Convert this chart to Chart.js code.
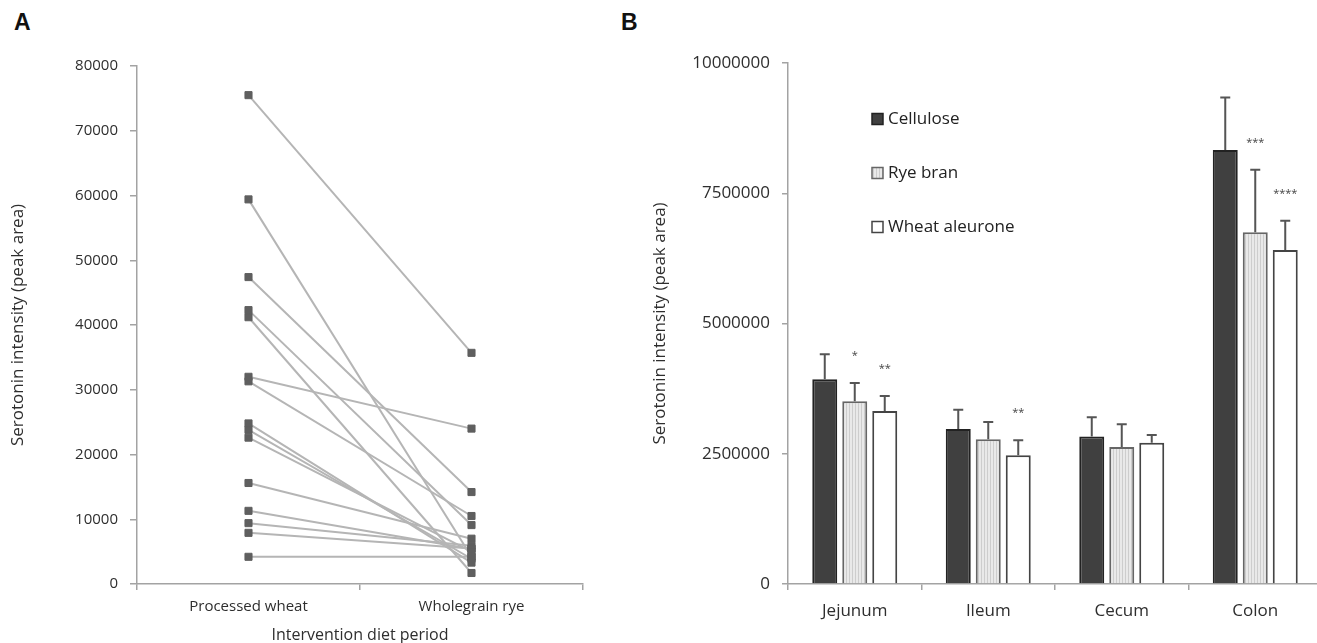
<!DOCTYPE html>
<html>
<head>
<meta charset="utf-8">
<script src="https://cdn.jsdelivr.net/npm/chart.js@4.4.1/dist/chart.umd.min.js"></script>
<style>
html, body { margin: 0; padding: 0; background: #fff; overflow: hidden; width: 1317px; height: 643px; }
#chartA { position: absolute; left: 0; top: 0; }
#chartB { position: absolute; left: 640px; top: 0; }
.panel { position: absolute; font: bold 23px "Liberation Sans", Arial, sans-serif; color: #111; }
</style>
</head>
<body>
<div class="panel" style="left:14px; top:9px;">A</div>
<div class="panel" style="left:621px; top:9px;">B</div>
<canvas id="chartA" width="600" height="643"></canvas>
<canvas id="chartB" width="682" height="643"></canvas>
<script>
// panel A: paired values per subject
const periods = ['Processed wheat', 'Wholegrain rye'];
const processedWheat = [75500, 59400, 47400, 42300, 41200, 32000, 31300, 24800, 23800, 22600, 15600, 11300, 9400, 7900, 4200];
const wholegrainRye = [35700, 4200, 14200, 9100, 1700, 24000, 10500, 3300, 3900, 5000, 7000, 5400, 5900, 5500, 4200];

// panel B: means, error bars and significance marks
const regions = ['Jejunum', 'Ileum', 'Cecum', 'Colon'];
const cellulose = [3930000, 2975000, 2830000, 8330000];
const celluloseErr = [480000, 370000, 370000, 1010000];
const ryeBran = [3510000, 2780000, 2630000, 6750000];
const ryeBranErr = [350000, 330000, 435000, 1200000];
const wheatAleurone = [3320000, 2470000, 2710000, 6410000];
const wheatAleuroneErr = [290000, 290000, 150000, 560000];
const celluloseStars = ['', '', '', ''];
const ryeBranStars = ['*', '', '', '***'];
const wheatAleuroneStars = ['**', '**', '', '****'];

const family = '"Open Sans", "Noto Sans", sans-serif';
const textColor = '#2e2e2e';
const axisColor = '#a3a3a3';

// ---------- panel A ----------
const datasetsA = [];
processedWheat.forEach((v, i) => {
    const pair = [v, wholegrainRye[i]];
    datasetsA.push({ data: pair, borderColor: '#b5b5b5', borderWidth: 2, pointRadius: 0, order: 2 });
    datasetsA.push({
        data: pair, showLine: false, pointStyle: 'rect', pointRadius: 5,
        pointBackgroundColor: '#5f5f5f', pointBorderColor: '#5f5f5f', pointBorderWidth: 1, order: 1
    });
});

new Chart(document.getElementById('chartA'), {
    type: 'line',
    data: { labels: periods, datasets: datasetsA },
    options: {
        responsive: false,
        animation: false,
        layout: { padding: { top: 66, right: 17, bottom: 0, left: 0 } },
        plugins: { legend: { display: false }, tooltip: { enabled: false } },
        scales: {
            x: {
                offset: true,
                grid: { offset: true, drawOnChartArea: false, tickLength: 6, color: axisColor, lineWidth: 1.5 },
                border: { color: axisColor, width: 1.5 },
                ticks: { color: textColor, font: { family, size: 15 }, padding: 8, maxRotation: 0 },
                title: { display: true, text: 'Intervention diet period', color: textColor, font: { family, size: 16 }, padding: { top: 0, bottom: -2 } },
                afterFit: s => { s.height = 59; }
            },
            y: {
                min: 0, max: 80000,
                ticks: { stepSize: 10000, color: textColor, font: { family, size: 15 }, padding: 12, callback: v => String(v) },
                grid: { drawOnChartArea: false, tickLength: 7, color: axisColor, lineWidth: 1.5 },
                border: { color: axisColor, width: 1.5 },
                title: { display: true, text: 'Serotonin intensity (peak area)', color: textColor, font: { family, size: 17 }, padding: { top: 8, bottom: 0 } },
                afterFit: s => { s.width = 137; }
            }
        }
    }
});

// ---------- panel B ----------
function stripes() {
    const c = document.createElement('canvas');
    c.width = 3; c.height = 4;
    const g = c.getContext('2d');
    g.fillStyle = '#e9e9e9'; g.fillRect(0, 0, 3, 4);
    g.fillStyle = '#cdcdcd'; g.fillRect(2, 0, 1, 4);
    return g.createPattern(c, 'repeat');
}

const errorBars = {
    id: 'errorBars',
    afterDatasetsDraw(chart) {
        const ctx = chart.ctx, y = chart.scales.y;
        chart.data.datasets.forEach((ds, di) => {
            chart.getDatasetMeta(di).data.forEach((bar, i) => {
                const top = y.getPixelForValue(ds.data[i] + ds.errors[i]);
                ctx.save();
                ctx.strokeStyle = '#555';
                ctx.lineWidth = 2;
                ctx.beginPath();
                ctx.moveTo(bar.x, bar.y);
                ctx.lineTo(bar.x, top);
                ctx.moveTo(bar.x - 5, top);
                ctx.lineTo(bar.x + 5, top);
                ctx.stroke();
                if (ds.stars[i]) {
                    ctx.fillStyle = '#444';
                    ctx.font = '11px ' + family;
                    ctx.textAlign = 'center';
                    ctx.textBaseline = 'middle';
                    ctx.fillText(ds.stars[i], bar.x, top - 27);
                }
                ctx.restore();
            });
        });
    }
};

const insideLegend = {
    id: 'insideLegend',
    afterDraw(chart) {
        const ctx = chart.ctx;
        chart.data.datasets.forEach((ds, i) => {
            const x = 232, cy = 119 + i * 54;
            ctx.save();
            ctx.fillStyle = ds.backgroundColor;
            ctx.fillRect(x, cy - 5.5, 11, 11);
            ctx.strokeStyle = ds.borderColor;
            ctx.lineWidth = 1.5;
            ctx.strokeRect(x, cy - 5.5, 11, 11);
            ctx.fillStyle = '#222';
            ctx.font = '17px ' + family;
            ctx.textBaseline = 'middle';
            ctx.fillText(ds.label, x + 16, cy);
            ctx.restore();
        });
    }
};

const barCommon = { borderWidth: 2, borderSkipped: 'start', categoryPercentage: 0.674, barPercentage: 0.833 };

new Chart(document.getElementById('chartB'), {
    type: 'bar',
    data: {
        labels: regions,
        datasets: [
            { ...barCommon, label: 'Cellulose', data: cellulose, errors: celluloseErr, stars: celluloseStars, backgroundColor: '#404040', borderColor: '#222' },
            { ...barCommon, label: 'Rye bran', data: ryeBran, errors: ryeBranErr, stars: ryeBranStars, backgroundColor: stripes(), borderColor: '#666' },
            { ...barCommon, label: 'Wheat aleurone', data: wheatAleurone, errors: wheatAleuroneErr, stars: wheatAleuroneStars, backgroundColor: '#ffffff', borderColor: '#444' }
        ]
    },
    options: {
        responsive: false,
        animation: false,
        layout: { padding: { top: 63, right: 0, bottom: 0, left: 0 } },
        plugins: { legend: { display: false }, tooltip: { enabled: false } },
        scales: {
            x: {
                grid: { offset: true, drawOnChartArea: false, tickLength: 6, color: axisColor, lineWidth: 1.5 },
                border: { color: axisColor, width: 1.5 },
                ticks: { color: textColor, font: { family, size: 17 }, padding: 11, maxRotation: 0 },
                afterFit: s => { s.height = 59; }
            },
            y: {
                min: 0, max: 10000000,
                ticks: { stepSize: 2500000, color: textColor, font: { family, size: 17 }, padding: 12, callback: v => String(v) },
                grid: { drawOnChartArea: false, tickLength: 6, color: axisColor, lineWidth: 1.5 },
                border: { color: axisColor, width: 1.5 },
                title: { display: true, text: 'Serotonin intensity (peak area)', color: textColor, font: { family, size: 17 }, padding: { top: 10, bottom: 0 } },
                afterFit: s => { s.width = 148; }
            }
        }
    },
    plugins: [errorBars, insideLegend]
});
</script>
</body>
</html>
